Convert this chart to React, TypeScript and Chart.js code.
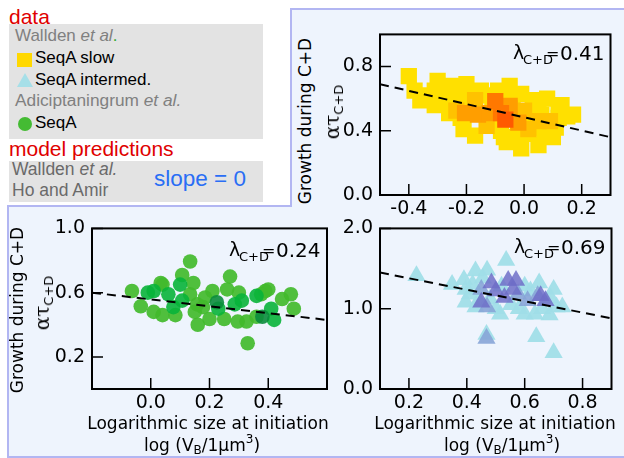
import React, { useEffect, useRef } from 'react';
import { Chart, registerables } from 'chart.js';

Chart.register(...registerables);

// ---------- data ----------
// top right: Wallden et al., SeqA slow (squares, shaded by local density)
const slowYellowX = [-0.40, -0.38, -0.36, -0.30, -0.31, -0.31, -0.25, -0.20, -0.15, -0.05, -0.01, 0.08, 0.15, 0.12, 0.10, -0.01, -0.02, -0.21, -0.17, -0.26, -0.22, -0.11, 0.04, 0.05, 0.03, -0.09, -0.11, -0.19, -0.26, -0.02, 0.07, -0.07, 0.17, 0.13, 0.05, -0.06, -0.28, -0.23, 0.02, 0.09, -0.14, -0.04, 0.0, 0.06, 0.11, -0.08, 0.12, -0.33];
const slowYellowY = [0.74, 0.65, 0.59, 0.71, 0.65, 0.56, 0.68, 0.69, 0.65, 0.68, 0.63, 0.60, 0.49, 0.53, 0.36, 0.29, 0.34, 0.41, 0.37, 0.51, 0.48, 0.44, 0.42, 0.56, 0.59, 0.65, 0.60, 0.59, 0.60, 0.38, 0.38, 0.36, 0.50, 0.56, 0.31, 0.33, 0.67, 0.62, 0.46, 0.44, 0.62, 0.60, 0.38, 0.50, 0.42, 0.40, 0.48, 0.62];
const slowAmberX = [-0.17, 0.0, 0.05, -0.13, -0.05, 0.015, -0.235, 0.09];
const slowAmberY = [0.59, 0.525, 0.46, 0.43, 0.54, 0.41, 0.525, 0.46];
const slowOrangeX = [-0.16, -0.05, -0.02, -0.205, -0.12];
const slowOrangeY = [0.50, 0.555, 0.45, 0.51, 0.51];
const slowDarkX = [-0.10, -0.08];
const slowDarkY = [0.585, 0.51];
const slowRedX = [-0.065];
const slowRedY = [0.47];

// bottom left: Adiciptaningrum et al., SeqA (circles)
const seqAX = [0.134, 0.107, -0.064, -0.034, 0.01, 0.04, 0.04, 0.084, 0.145, 0.134, 0.15, 0.16, 0.185, 0.20, 0.21, 0.25, 0.27, 0.26, 0.30, 0.296, 0.33, 0.36, 0.376, 0.40, 0.447, 0.477, 0.487, 0.39, 0.034, 0.178, 0.158, 0.326];
const seqAY = [0.794, 0.71, 0.61, 0.515, 0.48, 0.65, 0.46, 0.46, 0.66, 0.59, 0.48, 0.40, 0.57, 0.436, 0.61, 0.436, 0.70, 0.62, 0.60, 0.42, 0.285, 0.45, 0.59, 0.62, 0.56, 0.59, 0.50, 0.61, 0.66, 0.51, 0.527, 0.42];
const seqABlueX = [-0.01, 0.06, 0.107, 0.01, 0.077, 0.10, 0.286, 0.31, 0.23, 0.41, 0.42, 0.36];
const seqABlueY = [0.60, 0.59, 0.55, 0.61, 0.51, 0.65, 0.527, 0.55, 0.50, 0.50, 0.43, 0.58];
const seqADarkX = [0.225, 0.38];
const seqADarkY = [0.54, 0.45];

// bottom right: Wallden et al., SeqA intermediate (triangles)
const interCyanX = [0.226, 0.349, 0.536, 0.43, 0.47, 0.396, 0.396, 0.44, 0.48, 0.515, 0.553, 0.60, 0.62, 0.65, 0.70, 0.71, 0.686, 0.64, 0.70, 0.468, 0.635, 0.39, 0.41, 0.43, 0.50, 0.58, 0.66, 0.69, 0.455, 0.52, 0.60, 0.42, 0.73];
const interCyanY = [1.41, 1.30, 1.60, 1.47, 1.48, 1.24, 1.08, 1.10, 1.12, 0.93, 1.05, 0.93, 1.22, 1.32, 1.24, 1.02, 0.92, 0.65, 0.45, 0.68, 0.93, 1.36, 1.18, 1.02, 1.00, 1.00, 1.00, 1.13, 1.38, 1.28, 1.28, 1.30, 1.02];
const interMidX = [0.45, 0.468, 0.577, 0.645, 0.47, 0.61];
const interMidY = [1.24, 0.63, 1.18, 1.16, 1.02, 1.10];
const interPurpleX = [0.485, 0.543, 0.57, 0.56, 0.45, 0.53, 0.655, 0.672, 0.50];
const interPurpleY = [1.32, 1.35, 1.35, 1.24, 1.08, 1.14, 1.16, 1.10, 1.22];

// dashed regression lines (end points)
const fitSlowX = [-0.5, 0.3];
const fitSlowY = [0.69, 0.36];
const fitSeqAX = [-0.2, 0.6];
const fitSeqAY = [0.60, 0.43];
const fitInterX = [0.1, 0.9];
const fitInterY = [1.45, 0.88];

// axis ticks
const slowXTicks = [-0.4, -0.2, 0.0, 0.2];
const slowYTicks = [0.0, 0.4, 0.8];
const seqAXTicks = [0.0, 0.2, 0.4];
const seqAYTicks = [0.2, 0.6, 1.0];
const interXTicks = [0.2, 0.4, 0.6, 0.8];
const interYTicks = [0.0, 1.0, 2.0];

const lambdaValues = [0.41, 0.24, 0.69];

// ---------- chart panels ----------
const PAD_L = 60;
const PAD_R = 8;
const PAD_T = 14;
const PAD_B = 34;
const TICK_FONT = { family: 'DejaVu Sans', size: 19 };

interface Group {
  xs: number[];
  ys: number[];
  color: string;
  shape: 'rect' | 'circle' | 'triangle';
  radius: number;
}

interface PanelProps {
  left: number;
  top: number;
  width: number;
  height: number;
  xMin: number;
  xMax: number;
  yMin: number;
  yMax: number;
  xTicks: number[];
  yTicks: number[];
  groups: Group[]; // bottom to top
  fitX: number[];
  fitY: number[];
}

// black frame + inward tick marks, like the matplotlib original
const framePlugin = {
  id: 'frame',
  afterDatasetsDraw(chart: any) {
    const { ctx, chartArea: a, scales } = chart;
    ctx.save();
    ctx.strokeStyle = '#000';
    ctx.lineWidth = 1.5;
    ctx.beginPath();
    for (const t of scales.x.ticks) {
      const px = scales.x.getPixelForValue(t.value);
      ctx.moveTo(px, a.bottom);
      ctx.lineTo(px, a.bottom - 11);
    }
    for (const t of scales.y.ticks) {
      const py = scales.y.getPixelForValue(t.value);
      ctx.moveTo(a.left, py);
      ctx.lineTo(a.left + 11, py);
    }
    ctx.stroke();
    ctx.lineWidth = 2;
    ctx.strokeRect(a.left, a.top, a.right - a.left, a.bottom - a.top);
    ctx.restore();
  },
};

const Panel: React.FC<PanelProps> = (p) => {
  const canvasRef = useRef<HTMLCanvasElement>(null);

  useEffect(() => {
    if (!canvasRef.current) return;
    const ctx = canvasRef.current.getContext('2d');
    if (!ctx) return;

    const fit = {
      data: p.fitX.map((x, i) => ({ x, y: p.fitY[i] })),
      showLine: true,
      borderColor: '#000',
      borderWidth: 2,
      borderDash: [9, 6],
      pointRadius: 0,
      fill: false,
    };
    // first dataset is drawn on top, so reverse the bottom-to-top list
    const points = p.groups
      .slice()
      .reverse()
      .map((g) => ({
        data: g.xs.map((x, i) => ({ x, y: g.ys[i] })),
        backgroundColor: g.color,
        borderWidth: 0,
        pointStyle: g.shape,
        pointRadius: g.radius,
        pointHoverRadius: g.radius,
      }));

    const chart = new Chart(ctx, {
      type: 'scatter',
      data: { datasets: [fit, ...points] as any },
      options: {
        animation: false,
        responsive: false,
        events: [],
        layout: { padding: { top: PAD_T, right: PAD_R, left: 0, bottom: 0 } },
        plugins: { legend: { display: false }, tooltip: { enabled: false } },
        scales: {
          x: {
            type: 'linear',
            min: p.xMin,
            max: p.xMax,
            grid: { display: false, drawTicks: false },
            border: { display: false },
            afterBuildTicks: (s: any) => {
              s.ticks = p.xTicks.map((v) => ({ value: v }));
            },
            afterFit: (s: any) => {
              s.height = PAD_B;
            },
            ticks: {
              font: TICK_FONT,
              color: '#000',
              padding: 3,
              autoSkip: false,
              maxRotation: 0,
              callback: (v: any) => Number(v).toFixed(1),
            },
          },
          y: {
            type: 'linear',
            min: p.yMin,
            max: p.yMax,
            grid: { display: false, drawTicks: false },
            border: { display: false },
            afterBuildTicks: (s: any) => {
              s.ticks = p.yTicks.map((v) => ({ value: v }));
            },
            afterFit: (s: any) => {
              s.width = PAD_L;
            },
            ticks: {
              font: TICK_FONT,
              color: '#000',
              padding: 7,
              autoSkip: false,
              callback: (v: any) => Number(v).toFixed(1),
            },
          },
        },
      },
      plugins: [framePlugin],
    });

    return () => chart.destroy();
  }, []);

  return (
    <canvas
      ref={canvasRef}
      width={p.width + PAD_L + PAD_R}
      height={p.height + PAD_T + PAD_B}
      style={{ position: 'absolute', left: p.left - PAD_L, top: p.top - PAD_T }}
    />
  );
};

// ---------- text helpers ----------
const abs = (left: number, top: number, extra: React.CSSProperties = {}): React.CSSProperties => ({
  position: 'absolute',
  left,
  top,
  lineHeight: 1,
  whiteSpace: 'nowrap',
  ...extra,
});

const Lambda: React.FC<{ x: number; y: number; value: number }> = ({ x, y, value }) => (
  <>
    <div style={abs(x, y - 1.6, { font: '19px "DejaVu Sans"' })}>λ</div>
    <div style={abs(x + 10, y + 8.5, { font: '13px "DejaVu Sans"' })}>C+D</div>
    <div style={abs(x + 33, y + 0.6, { font: '16px "DejaVu Sans"' })}>=</div>
    <div style={abs(x + 47, y - 2.3, { font: '20px "DejaVu Sans"' })}>{value.toFixed(2)}</div>
  </>
);

const Rotated: React.FC<{ cx: number; cy: number; children: React.ReactNode }> = ({ cx, cy, children }) => (
  <div
    style={{
      position: 'absolute',
      left: cx,
      top: cy,
      transform: 'translate(-50%, -50%) rotate(-90deg)',
      whiteSpace: 'nowrap',
      lineHeight: 1,
      font: '17px "DejaVu Sans"',
    }}
  >
    {children}
  </div>
);

const Centered: React.FC<{ cx: number; top: number; children: React.ReactNode }> = ({ cx, top, children }) => (
  <div
    style={{
      position: 'absolute',
      left: cx,
      top,
      transform: 'translateX(-50%)',
      whiteSpace: 'nowrap',
      lineHeight: 1,
      font: '17px "DejaVu Sans"',
    }}
  >
    {children}
  </div>
);

const AlphaTau = () => (
  <span>
    <span style={{ font: '20px "DejaVu Serif"' }}>ατ</span>
    <sub style={{ fontSize: 13, verticalAlign: -4 }}>C+D</sub>
  </span>
);

const LogVB = () => (
  <span>
    log (V<sub style={{ fontSize: 12, verticalAlign: -3 }}>B</sub>/1μm
    <sup style={{ fontSize: 12, verticalAlign: 8 }}>3</sup>)
  </span>
);

const SANS = '"Liberation Sans", Arial, sans-serif';
const RED = '#e00000';

export default function App() {
  return (
    <div
      style={{
        position: 'fixed',
        left: 0,
        top: 0,
        width: 624,
        height: 458,
        overflow: 'hidden',
        background: '#fff',
        fontFamily: SANS,
        color: '#000',
      }}
    >
      <svg width={624} height={458} style={{ position: 'absolute', left: 0, top: 0 }}>
        <polygon
          points="291,9 640,9 640,457 8,457 8,206 291,206"
          fill="#eef4fd"
          stroke="#b2b6f2"
          strokeWidth={2}
        />
      </svg>

      {/* legend */}
      <div style={abs(9, 5.5, { fontSize: 21, color: RED })}>data</div>
      <div style={{ position: 'absolute', left: 9, top: 24, width: 254, height: 115, background: '#e3e3e3' }} />
      <div style={abs(15, 27.3, { fontSize: 17, color: '#808080' })}>
        Wallden <i>et al</i>
        <span style={{ color: '#33aa33' }}>.</span>
      </div>
      <div style={{ position: 'absolute', left: 17, top: 53, width: 15, height: 14, background: '#ffd800' }} />
      <div style={abs(35, 48.9, { fontSize: 17 })}>SeqA slow</div>
      <svg width={18} height={15} style={{ position: 'absolute', left: 16, top: 73 }}>
        <polygon points="9,0 17,14 1,14" fill="#a6dfe8" />
      </svg>
      <div style={abs(35, 70.6, { fontSize: 17 })}>SeqA intermed.</div>
      <div style={abs(15, 92.3, { fontSize: 17.3, color: '#808080' })}>
        Adiciptaningrum <i>et al.</i>
      </div>
      <div style={{ position: 'absolute', left: 18, top: 117, width: 14, height: 14, borderRadius: 7, background: '#44bb33' }} />
      <div style={abs(35, 113.6, { fontSize: 17 })}>SeqA</div>

      <div style={abs(9, 138, { fontSize: 21, color: RED })}>model predictions</div>
      <div style={{ position: 'absolute', left: 9, top: 161, width: 254, height: 41, background: '#e3e3e3' }} />
      <div style={abs(12, 160.9, { fontSize: 17.5, color: '#6a6a6a' })}>
        Wallden <i>et al.</i>
      </div>
      <div style={abs(12, 181.9, { fontSize: 17.5, color: '#6a6a6a' })}>Ho and Amir</div>
      <div style={abs(154, 168, { fontSize: 22.5, color: '#2a6ef5' })}>slope = 0</div>

      {/* panels */}
      <Panel
        left={380}
        top={30}
        width={234}
        height={165}
        xMin={-0.5}
        xMax={0.3}
        yMin={0}
        yMax={1.0}
        xTicks={slowXTicks}
        yTicks={slowYTicks}
        fitX={fitSlowX}
        fitY={fitSlowY}
        groups={[
          { xs: slowYellowX, ys: slowYellowY, color: '#ffe000', shape: 'rect', radius: 11.5 },
          { xs: slowAmberX, ys: slowAmberY, color: '#ffc200', shape: 'rect', radius: 11.5 },
          { xs: slowOrangeX, ys: slowOrangeY, color: '#ff9e00', shape: 'rect', radius: 11.5 },
          { xs: slowDarkX, ys: slowDarkY, color: '#ff7800', shape: 'rect', radius: 11.5 },
          { xs: slowRedX, ys: slowRedY, color: '#ff5a00', shape: 'rect', radius: 11.5 },
        ]}
      />
      <Panel
        left={92}
        top={224}
        width={235}
        height={165}
        xMin={-0.2}
        xMax={0.6}
        yMin={0}
        yMax={1.0}
        xTicks={seqAXTicks}
        yTicks={seqAYTicks}
        fitX={fitSeqAX}
        fitY={fitSeqAY}
        groups={[
          { xs: seqAX, ys: seqAY, color: 'rgba(66,186,44,0.92)', shape: 'circle', radius: 7.3 },
          { xs: seqABlueX, ys: seqABlueY, color: 'rgba(8,180,58,0.9)', shape: 'circle', radius: 7.3 },
          { xs: seqADarkX, ys: seqADarkY, color: 'rgba(10,140,60,0.9)', shape: 'circle', radius: 7.3 },
        ]}
      />
      <Panel
        left={380}
        top={224}
        width={234}
        height={165}
        xMin={0.1}
        xMax={0.9}
        yMin={0}
        yMax={2.0}
        xTicks={interXTicks}
        yTicks={interYTicks}
        fitX={fitInterX}
        fitY={fitInterY}
        groups={[
          { xs: interCyanX, ys: interCyanY, color: 'rgba(160,222,232,0.95)', shape: 'triangle', radius: 10.5 },
          { xs: interMidX, ys: interMidY, color: 'rgba(135,165,215,0.9)', shape: 'triangle', radius: 10.5 },
          { xs: interPurpleX, ys: interPurpleY, color: 'rgba(110,110,200,0.85)', shape: 'triangle', radius: 10.5 },
        ]}
      />

      {/* lambda annotations */}
      <Lambda x={513} y={43} value={lambdaValues[0]} />
      <Lambda x={229} y={240} value={lambdaValues[1]} />
      <Lambda x={514} y={237} value={lambdaValues[2]} />

      {/* axis titles */}
      <Rotated cx={305} cy={121}>Growth during C+D</Rotated>
      <Rotated cx={333} cy={112}>
        <AlphaTau />
      </Rotated>
      <Rotated cx={17} cy={310}>Growth during C+D</Rotated>
      <Rotated cx={43} cy={303}>
        <AlphaTau />
      </Rotated>

      <Centered cx={208} top={412.5}>Logarithmic size at initiation</Centered>
      <Centered cx={202} top={431.5}>
        <LogVB />
      </Centered>
      <Centered cx={495} top={412.5}>Logarithmic size at initiation</Centered>
      <Centered cx={502} top={431.5}>
        <LogVB />
      </Centered>
    </div>
  );
}
